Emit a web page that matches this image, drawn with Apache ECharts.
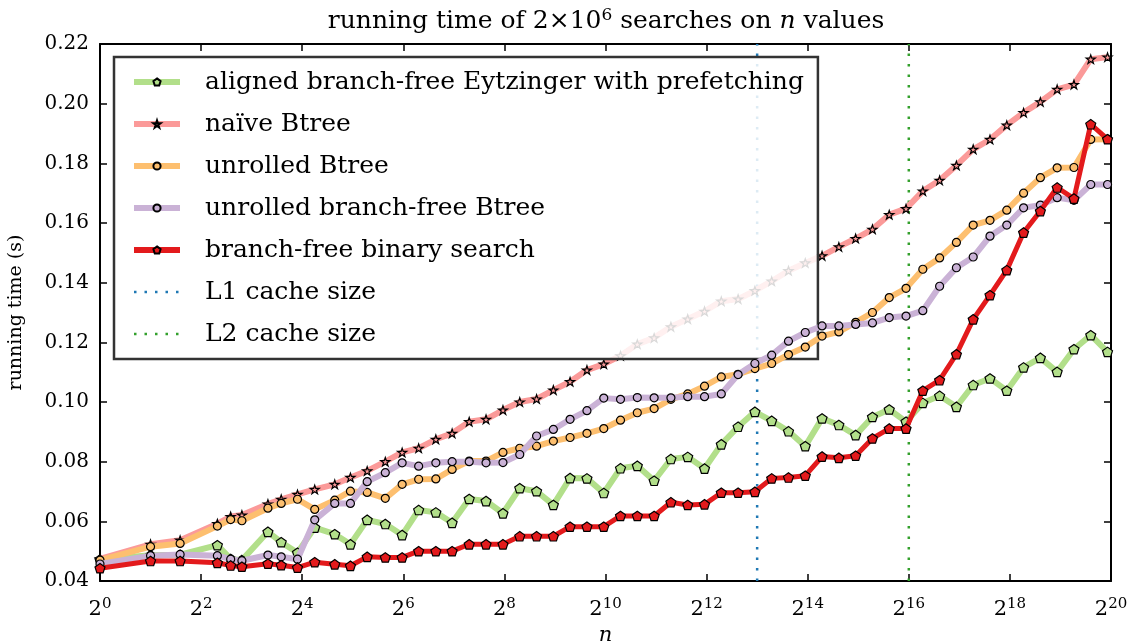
<!DOCTYPE html>
<html><head><meta charset="utf-8">
<script src="https://cdn.jsdelivr.net/npm/echarts@6/dist/echarts.min.js"></script>
<style>html,body{margin:0;padding:0;background:#fff}#c{width:1135px;height:644px}</style>
</head><body><div id="c"></div>
<script>
// n values (sizes searched)
const nValues = [1,2,3,5,6,7,10,12,15,19,
  25,31,39,50,63,79,100,125,158,199,
  251,316,398,501,630,794,1000,1258,1584,1995,
  2511,3162,3981,5011,6309,7943,10000,12589,15848,19952,
  25118,31622,39810,50118,63095,79432,100000,125892,158489,199526,
  251188,316227,398107,501187,630957,794328,1000000];

const eytzinger = [0.0472,0.0486,0.0488,0.0520,0.0474,0.0470,0.0565,0.0530,0.0495,0.0579,
  0.0557,0.0523,0.0605,0.0591,0.0554,0.0638,0.0630,0.0595,0.0675,0.0668,
  0.0627,0.0711,0.0701,0.0655,0.0745,0.0744,0.0695,0.0778,0.0786,0.0736,
  0.0809,0.0816,0.0777,0.0858,0.0917,0.0967,0.0937,0.0902,0.0852,0.0945,
  0.0923,0.0889,0.0950,0.0975,0.0934,0.0997,0.1021,0.0984,0.1057,0.1079,
  0.1038,0.1116,0.1148,0.1101,0.1177,0.1224,0.1168];

const naiveBtree = [0.0474,0.0523,0.0537,0.0592,0.0616,0.0621,0.0658,0.0674,0.0690,0.0707,
  0.0724,0.0747,0.0769,0.0800,0.0831,0.0845,0.0875,0.0895,0.0934,0.0942,
  0.0973,0.1000,0.1010,0.1040,0.1068,0.1107,0.1127,0.1155,0.1194,0.1215,
  0.1252,0.1278,0.1304,0.1338,0.1345,0.1373,0.1405,0.1440,0.1466,0.1490,
  0.1520,0.1548,0.1579,0.1628,0.1648,0.1707,0.1743,0.1793,0.1847,0.1880,
  0.1928,0.1970,0.2006,0.2048,0.2064,0.2149,0.2156];

const unrolledBtree = [0.0470,0.0515,0.0526,0.0584,0.0606,0.0602,0.0644,0.0660,0.0674,0.0640,
  0.0671,0.0701,0.0697,0.0677,0.0724,0.0741,0.0742,0.0774,0.0802,0.0802,
  0.0831,0.0845,0.0852,0.0869,0.0881,0.0895,0.0911,0.0939,0.0964,0.0978,
  0.1009,0.1027,0.1053,0.1084,0.1093,0.1112,0.1129,0.1159,0.1184,0.1221,
  0.1235,0.1267,0.1300,0.1350,0.1381,0.1445,0.1483,0.1535,0.1593,0.1609,
  0.1643,0.1700,0.1752,0.1785,0.1786,0.1880,0.1881];

const unrolledBranchFreeBtree = [0.0457,0.0485,0.0489,0.0485,0.0473,0.0468,0.0487,0.0481,0.0473,0.0605,
  0.0660,0.0660,0.0733,0.0763,0.0796,0.0785,0.0796,0.0800,0.0800,0.0796,
  0.0797,0.0824,0.0886,0.0908,0.0942,0.0971,0.1013,0.1009,0.1015,0.1014,
  0.1014,0.1018,0.1018,0.1027,0.1092,0.1129,0.1157,0.1204,0.1233,0.1255,
  0.1255,0.1260,0.1265,0.1283,0.1288,0.1306,0.1388,0.1450,0.1486,0.1556,
  0.1593,0.1651,0.1660,0.1685,0.1676,0.1729,0.1729];

const branchFreeBinary = [0.0443,0.0467,0.0467,0.0461,0.0452,0.0448,0.0458,0.0453,0.0445,0.0463,
  0.0456,0.0451,0.0481,0.0479,0.0479,0.0500,0.0500,0.0500,0.0523,0.0523,
  0.0523,0.0550,0.0550,0.0550,0.0582,0.0582,0.0582,0.0618,0.0618,0.0618,
  0.0664,0.0655,0.0657,0.0696,0.0696,0.0699,0.0744,0.0747,0.0753,0.0817,
  0.0813,0.0820,0.0878,0.0911,0.0911,0.1038,0.1073,0.1160,0.1277,0.1358,
  0.1442,0.1568,0.1640,0.1719,0.1682,0.1931,0.1881];

const cacheL1 = 8192;   // 2^13
const cacheL2 = 65536;  // 2^16
const yRange = [0.04, 0.22];
const xRange = [1, 1048576];

const FONT = '"DejaVu Serif","Liberation Serif",serif';
const PENT = 'path://M0,-1L0.951,-0.309L0.588,0.809L-0.588,0.809L-0.951,-0.309Z';
const STAR = 'path://M0,-1L0.2245,-0.309L0.951,-0.309L0.363,0.118L0.588,0.809L0,0.382L-0.588,0.809L-0.363,0.118L-0.951,-0.309L-0.2245,-0.309Z';

const NAMES = ['aligned branch-free Eytzinger with prefetching', 'na\u00efve Btree', 'unrolled Btree',
  'unrolled branch-free Btree', 'branch-free binary search', 'L1 cache size', 'L2 cache size'];

function mk(name, vals, color, fill, symbol, size, lw, z) {
  return {
    name: name, type: 'line', data: nValues.map((n, i) => [n, vals[i]]),
    symbol: symbol, symbolSize: size, symbolKeepAspect: true, showSymbol: true,
    lineStyle: { color: color, width: lw }, color: color,
    itemStyle: { color: fill, borderColor: '#000', borderWidth: 1.2 },
    emphasis: { disabled: true }, z: z, animation: false
  };
}
function vline(name, x, color) {
  return {
    name: name, type: 'line', data: [[x, yRange[0]], [x, yRange[1]]],
    symbol: 'none', color: color,
    lineStyle: { color: color, width: 2.5, type: [2.5, 8] },
    emphasis: { disabled: true }, z: 1, animation: false
  };
}

const chart = echarts.init(document.getElementById('c'));
const axisLine = { show: true, lineStyle: { color: '#000', width: 2 } };
const tick = { show: true, inside: true, length: 7, lineStyle: { color: '#000', width: 1.5 } };
chart.setOption({
  animation: false,
  title: {
    text: '{a|running time of 2\u00d710}{s|6}{a| searches on }{i|n}{a| values}',
    left: 601, top: 2, textAlign: 'center',
    textStyle: { fontWeight: 'normal', rich: {
      a: { fontFamily: FONT, fontSize: 25, color: '#000', fontWeight: 'normal' },
      i: { fontFamily: FONT, fontSize: 25, fontStyle: 'italic', color: '#000', fontWeight: 'normal' },
      s: { fontFamily: FONT, fontSize: 17, color: '#000', verticalAlign: 'top', padding: [0, 0, 11, 0], fontWeight: 'normal' }
    } }
  },
  grid: { left: 100, right: 24, top: 44, bottom: 63, containLabel: false, outerBoundsMode: 'none' },
  xAxis: [{
    type: 'log', logBase: 2, min: xRange[0], max: xRange[1], interval: 2, splitNumber: 10,
    position: 'bottom', axisLine: axisLine, axisTick: tick, splitLine: { show: false },
    minorTick: { show: false },
    name: 'n', nameLocation: 'middle', nameGap: 42,
    nameTextStyle: { fontFamily: FONT, fontSize: 21, fontStyle: 'italic', color: '#000' },
    axisLabel: {
      margin: 16, color: '#000',
      formatter: v => '{b|2}{s|' + Math.round(Math.log2(v)) + '}',
      rich: {
        b: { fontFamily: FONT, fontSize: 21, color: '#000' },
        s: { fontFamily: FONT, fontSize: 15, color: '#000', verticalAlign: 'top', padding: [0, 0, 11, 0] }
      }
    }
  }, {
    type: 'log', logBase: 2, min: xRange[0], max: xRange[1], interval: 2, splitNumber: 10,
    position: 'top', axisLine: axisLine, axisTick: tick, splitLine: { show: false },
    axisLabel: { show: false }
  }],
  yAxis: [{
    type: 'value', min: yRange[0], max: yRange[1], interval: 0.02, position: 'left',
    axisLine: axisLine, axisTick: tick, splitLine: { show: false },
    name: 'running time (s)', nameLocation: 'middle', nameGap: 74, nameRotate: 90,
    nameTextStyle: { fontFamily: FONT, fontSize: 19, color: '#000' },
    axisLabel: { margin: 11, color: '#000', fontFamily: FONT, fontSize: 20, formatter: v => v.toFixed(2) }
  }, {
    type: 'value', min: yRange[0], max: yRange[1], interval: 0.02, position: 'right',
    axisLine: axisLine, axisTick: tick, splitLine: { show: false }, axisLabel: { show: false }
  }],
  legend: {
    orient: 'vertical', left: 114, top: 57,
    data: NAMES.map((nm, i) => i < 5
      ? { name: nm, lineStyle: { width: 6 } }
      : { name: nm, lineStyle: { width: 2.5 }, itemStyle: { opacity: 0 } }),
    itemWidth: 46, itemHeight: 9, itemGap: 12,
    padding: [10, 14, 10, 17],
    backgroundColor: 'rgba(255,255,255,0.85)', borderColor: '#333', borderWidth: 2.5, borderRadius: 0,
    textStyle: { fontFamily: FONT, fontSize: 25, color: '#000', lineHeight: 30, padding: [0, 0, 0, 20] },
    selectedMode: false
  },
  series: [
    vline('L1 cache size', cacheL1, '#1f78b4'),
    vline('L2 cache size', cacheL2, '#33a02c'),
    mk(NAMES[0], eytzinger, '#b2df8a', '#b2df8a', PENT, 10, 6, 2),
    mk(NAMES[1], naiveBtree, '#fb9a99', '#fb9a99', STAR, 9, 6, 3),
    mk(NAMES[2], unrolledBtree, '#fdbf6f', '#fdbf6f', 'circle', 8, 6, 4),
    mk(NAMES[3], unrolledBranchFreeBtree, '#cab2d6', '#cab2d6', 'circle', 8, 6, 5),
    mk(NAMES[4], branchFreeBinary, '#e31a1c', '#e31a1c', PENT, 10, 5, 6)
  ]
});
</script></body></html>
